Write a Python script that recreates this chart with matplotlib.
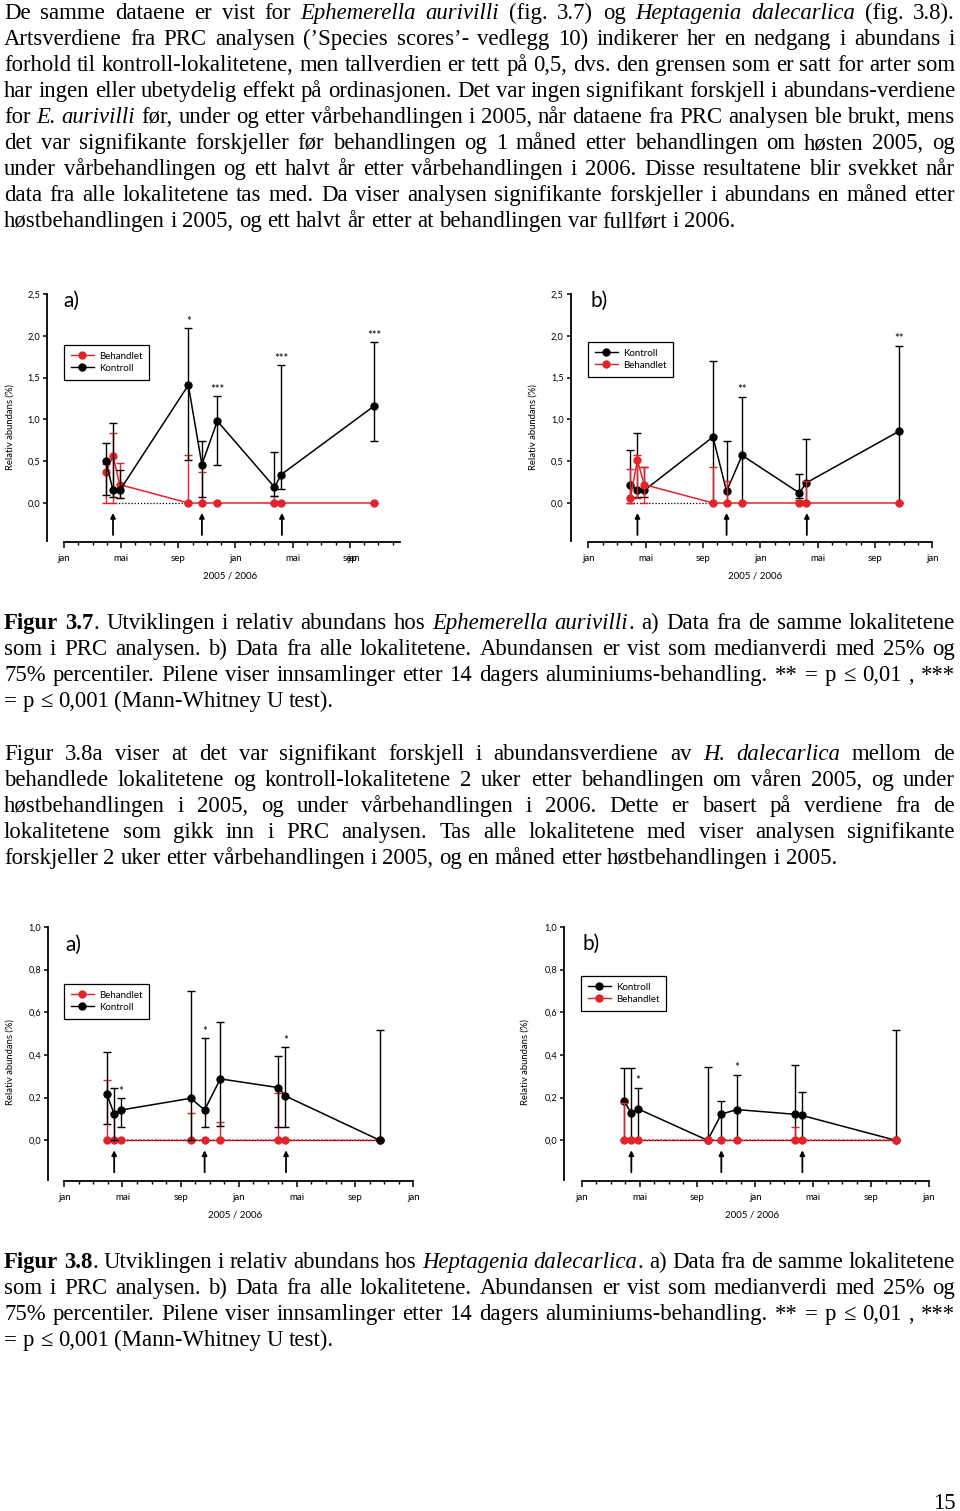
import re
import numpy as np
import matplotlib
matplotlib.use("Agg")
import matplotlib.pyplot as plt
from matplotlib.lines import Line2D

W, H = 960, 1511
SERIF = ["Liberation Serif", "DejaVu Serif"]
SANS = ["Lato", "DejaVu Sans"]
BODY = 16.35
RED = "#e3232b"

# ---- page text (_italic_, ^bold^) ----
para1 = [
    "De samme dataene er vist for _Ephemerella aurivilli_ (fig. 3.7) og _Heptagenia dalecarlica_ (fig. 3.8).",
    "Artsverdiene fra PRC analysen (’Species scores’- vedlegg 10) indikerer her en nedgang i abundans i",
    "forhold til kontroll-lokalitetene, men tallverdien er tett på 0,5, dvs. den grensen som er satt for arter som",
    "har ingen eller ubetydelig effekt på ordinasjonen. Det var ingen signifikant forskjell i abundans-verdiene",
    "for _E. aurivilli_ før, under og etter vårbehandlingen i 2005, når dataene fra PRC analysen ble brukt, mens",
    "det var signifikante forskjeller før behandlingen og 1 måned etter behandlingen om høsten 2005, og",
    "under vårbehandlingen og ett halvt år etter vårbehandlingen i 2006. Disse resultatene blir svekket når",
    "data fra alle lokalitetene tas med. Da viser analysen signifikante forskjeller i abundans en måned etter",
    "høstbehandlingen i 2005, og ett halvt år etter at behandlingen var fullført i 2006.",
]
caption_tail = [
    "som i PRC analysen. b) Data fra alle lokalitetene. Abundansen er vist som medianverdi med 25% og",
    "75% percentiler. Pilene viser innsamlinger etter 14 dagers aluminiums-behandling. ** = p ≤ 0,01 , ***",
    "= p ≤ 0,001 (Mann-Whitney U test).",
]
caption37 = ["^Figur 3.7^. Utviklingen i relativ abundans hos _Ephemerella aurivilli_. a) Data fra de samme lokalitetene"] + caption_tail
para2 = [
    "Figur 3.8a viser at det var signifikant forskjell i abundansverdiene av _H. dalecarlica_ mellom de",
    "behandlede lokalitetene og kontroll-lokalitetene 2 uker etter behandlingen om våren 2005, og under",
    "høstbehandlingen i 2005, og under vårbehandlingen i 2006. Dette er basert på verdiene fra de",
    "lokalitetene som gikk inn i PRC analysen. Tas alle lokalitetene med viser analysen signifikante",
    "forskjeller 2 uker etter vårbehandlingen i 2005, og en måned etter høstbehandlingen i 2005.",
]
caption38 = ["^Figur 3.8^. Utviklingen i relativ abundans hos _Heptagenia dalecarlica_. a) Data fra de samme lokalitetene"] + caption_tail

# ---- chart data (months since jan 2005) ----
months = [2.93, 3.43, 3.9, 8.7, 9.65, 10.73, 14.73, 15.2, 21.7]
arrow_months = [3.43, 9.65, 15.25]

# fig 3.7 a) same localities as PRC
ea_k_med = [0.50, 0.15, 0.15, 1.41, 0.46, 0.98, 0.19, 0.34, 1.16]
ea_k_lo = [0.10, 0.07, 0.06, 0.51, 0.07, 0.45, 0.08, 0.17, 0.74]
ea_k_hi = [0.72, 0.96, 0.40, 2.09, 0.74, 1.28, 0.61, 1.65, 1.92]
ea_b_med = [0.37, 0.56, 0.22, 0.0, 0.0, 0.0, 0.0, 0.0, 0.0]
ea_b_lo = [0.0, 0.0, 0.06, 0.0, 0.0, 0.0, 0.0, 0.0, 0.0]
ea_b_hi = [0.47, 0.84, 0.48, 0.57, 0.37, 0.0, 0.08, 0.0, 0.0]
ea_stars = ["", "", "", "*", "", "***", "", "***", "***"]

# fig 3.7 b) all localities
eb_k_med = [0.22, 0.15, 0.15, 0.79, 0.14, 0.57, 0.12, 0.24, 0.86]
eb_k_lo = [0.0, 0.07, 0.07, 0.0, 0.0, 0.0, 0.06, 0.0, 0.0]
eb_k_hi = [0.63, 0.84, 0.43, 1.70, 0.74, 1.27, 0.35, 0.77, 1.88]
eb_b_med = [0.06, 0.51, 0.22, 0.0, 0.0, 0.0, 0.0, 0.0, 0.0]
eb_b_lo = [0.0, 0.06, 0.0, 0.0, 0.0, 0.0, 0.0, 0.0, 0.0]
eb_b_hi = [0.41, 0.58, 0.43, 0.43, 0.26, 0.0, 0.03, 0.26, 0.0]
eb_stars = ["", "", "", "", "", "**", "", "", "**"]

# fig 3.8 a)
ha_k_med = [0.216, 0.123, 0.142, 0.197, 0.142, 0.288, 0.247, 0.208, 0.0]
ha_k_lo = [0.075, 0.0, 0.061, 0.0, 0.061, 0.069, 0.061, 0.061, 0.0]
ha_k_hi = [0.416, 0.247, 0.197, 0.70, 0.478, 0.553, 0.394, 0.436, 0.517]
ha_b_med = [0.0] * 9
ha_b_lo = [0.0] * 9
ha_b_hi = [0.283, 0.13, 0.0, 0.127, 0.0, 0.088, 0.223, 0.0, 0.0]
ha_stars = ["", "", "*", "", "*", "", "", "*", ""]

# fig 3.8 b)
hb_k_med = [0.184, 0.127, 0.147, 0.0, 0.123, 0.144, 0.122, 0.117, 0.0]
hb_k_lo = [0.0] * 9
hb_k_hi = [0.337, 0.337, 0.247, 0.345, 0.184, 0.308, 0.352, 0.228, 0.517]
hb_b_med = [0.0] * 9
hb_b_lo = [0.0] * 9
hb_b_hi = [0.173, 0.0, 0.0, 0.0, 0.0, 0.0, 0.061, 0.0, 0.0]
hb_stars = ["", "", "*", "", "", "*", "", "", ""]

month_names = ["jan", "mai", "sep", "jan", "mai", "sep", "jan"]

fig = plt.figure(figsize=(W / 100, H / 100), dpi=100)
renderer = fig.canvas.get_renderer()


def parse(line):
    runs = []
    for part in re.split(r"(_[^_]*_|\^[^\^]*\^)", line):
        if not part:
            continue
        if part[0] == "_":
            runs.append((part[1:-1], "italic"))
        elif part[0] == "^":
            runs.append((part[1:-1], "bold"))
        else:
            runs.append((part, "normal"))
    words = [[]]
    for txt, sty in runs:
        for i, c in enumerate(txt.split(" ")):
            if i > 0:
                words.append([])
            if c:
                words[-1].append((c, sty))
    return [w for w in words if w]


def put_line(line, y, justify, x0=4, x1=955):
    items = []
    for w in parse(line):
        arts = []
        for txt, sty in w:
            t = fig.text(0, 1 - y / H, txt, fontsize=BODY, family=SERIF, va="baseline",
                         style="italic" if sty == "italic" else "normal",
                         weight="bold" if sty == "bold" else "normal")
            arts.append((t, t.get_window_extent(renderer).width))
        items.append(arts)
    total = sum(bw for arts in items for _, bw in arts)
    gap = BODY * 100 / 72 * 0.25
    if justify and len(items) > 1:
        gap = (x1 - x0 - total) / (len(items) - 1)
    x = x0
    for arts in items:
        for t, bw in arts:
            t.set_x(x / W)
            x += bw
        x += gap


def put_paragraph(lines, y0, step=26):
    for i, line in enumerate(lines):
        put_line(line, y0 + i * step, justify=(i < len(lines) - 1))


put_paragraph(para1, 19)
put_paragraph(caption37, 629)
put_paragraph(para2, 760)
put_paragraph(caption38, 1268)
fig.text(956 / W, 1 - 1509 / H, "15", fontsize=BODY, family=SERIF, ha="right", va="baseline")


def panel(g, k_med, k_lo, k_hi, b_med, b_lo, b_hi, stars, kontroll_first):
    jx, mpx, zy, upx = g["jan_x"], g["mpx"], g["zero_y"], g["upx"]
    xlim = (-2.0, 24.6)
    ylim = (-48 / upx, g["ytop"] + 14 / upx)
    left = jx + xlim[0] * mpx
    right = jx + xlim[1] * mpx
    top = zy - ylim[1] * upx
    bot = zy - ylim[0] * upx
    ax = fig.add_axes([left / W, 1 - bot / H, (right - left) / W, (bot - top) / H])
    ax.set_xlim(xlim)
    ax.set_ylim(ylim)
    ax.patch.set_visible(False)
    for s in ("top", "right"):
        ax.spines[s].set_visible(False)
    xaxis_y = -g["xoff"] / upx
    ax.spines["left"].set_position(("data", (g["yaxis_x"] - jx) / mpx))
    ax.spines["left"].set_bounds(xaxis_y + 1 / upx, g["ytop"])
    ax.spines["bottom"].set_position(("data", xaxis_y))
    ax.spines["bottom"].set_bounds(0, g["xend"])
    for s in ("left", "bottom"):
        ax.spines[s].set_linewidth(1.3)

    yt = np.round(np.arange(0, g["ytop"] + 1e-9, g["ystep"]), 2)
    ax.set_yticks(yt)
    ax.set_yticklabels([f"{v:.1f}".replace(".", ",") for v in yt], family=SANS, fontsize=6.6)
    nmaj = int(g["xend"] // 4) + 1
    ax.set_xticks(np.arange(nmaj) * 4)
    ax.set_xticklabels(month_names[:nmaj], family=SANS, fontsize=7.0)
    ax.set_xticks(np.arange(0, int(g["xend"]) + 1), minor=True)
    ax.tick_params(axis="x", which="major", length=4, width=1.1, pad=5)
    ax.tick_params(axis="x", which="minor", length=2.5, width=1.0)
    ax.tick_params(axis="y", length=3, width=1.1, pad=2)

    m = np.array(months)
    series = {
        "Kontroll": (np.array(k_med), np.array(k_lo), np.array(k_hi), "black"),
        "Behandlet": (np.array(b_med), np.array(b_lo), np.array(b_hi), RED),
    }
    order = ["Kontroll", "Behandlet"] if kontroll_first else ["Behandlet", "Kontroll"]

    if g["dotted_red"]:
        ax.plot(m, np.zeros_like(m), color=RED, lw=1.0, zorder=2)
        ax.plot(m, np.zeros_like(m), color="black", lw=0.8, ls=(0, (1, 1.5)), zorder=2.1)
    else:
        ax.plot(m[:4], np.zeros(4), color="black", lw=0.9, ls=(0, (1, 1.5)), zorder=1)

    handles = []
    for z, name in enumerate(order):
        med, lo, hi, c = series[name]
        ax.errorbar(m, med, yerr=[med - lo, hi - med], fmt="none", ecolor=c,
                    elinewidth=1.0, capsize=3.0, capthick=1.0, zorder=3 + z)
        ax.plot(m, med, color=c, lw=1.1, zorder=3 + z,
                ls=":" if (g["dotted_red"] and name == "Behandlet") else "-")
        ax.plot(m, med, "o", color=c, ms=5.0, mec=c, zorder=3.5 + z)
        handles.append(Line2D([], [], color=c, marker="o", ms=5.0, lw=1.0))

    for mi, s, h in zip(m, stars, np.array(k_hi)):
        if s:
            ax.annotate(s, (mi, h), xytext=(0, 5), textcoords="offset points",
                        ha="center", va="center", fontsize=8, family=SANS)

    for am in arrow_months:
        ax.annotate("", xy=(am, -10 / upx), xytext=(am, -32 / upx),
                    arrowprops=dict(arrowstyle="-|>", color="black", lw=1.3,
                                    mutation_scale=7, shrinkA=0, shrinkB=0))

    leg = ax.legend(handles, order, loc="upper left",
                    bbox_to_anchor=(g["leg"][0] / W, 1 - g["leg"][1] / H),
                    bbox_transform=fig.transFigure, borderaxespad=0, fancybox=False,
                    edgecolor="black", framealpha=1, prop={"family": SANS, "size": 7.0},
                    handlelength=2.4, borderpad=0.7, labelspacing=0.3, handletextpad=0.5)
    leg.get_frame().set_linewidth(0.9)

    fig.text(g["lab"][0] / W, 1 - g["lab"][1] / H, g["name"], fontsize=15,
             family=SANS, ha="left", va="center")
    fig.text(g["ylab"][0] / W, 1 - g["ylab"][1] / H, "Relativ abundans (%)", rotation=90,
             fontsize=6.8, family=SANS, ha="center", va="center")
    fig.text(g["xlab"][0] / W, 1 - g["xlab"][1] / H, "2005 / 2006", fontsize=7.0,
             family=SANS, ha="center", va="center")
    return ax, xaxis_y


geo_top_a = dict(jan_x=64, mpx=14.29, zero_y=503, upx=83.6, yaxis_x=47, xoff=38.7,
                 ytop=2.5, ystep=0.5, xend=23.5, lab=(63, 301), leg=(64, 345),
                 ylab=(10, 427), xlab=(230, 576), name="a)", dotted_red=False)
geo_top_b = dict(jan_x=588.3, mpx=14.33, zero_y=503, upx=83.6, yaxis_x=570.7, xoff=38.7,
                 ytop=2.5, ystep=0.5, xend=24, lab=(590, 301), leg=(588, 342),
                 ylab=(533, 427), xlab=(755, 576), name="b)", dotted_red=False)
geo_bot_a = dict(jan_x=64.3, mpx=14.54, zero_y=1140.3, upx=213.3, yaxis_x=48.3, xoff=40.4,
                 ytop=1.0, ystep=0.2, xend=24, lab=(65, 945), leg=(64, 984),
                 ylab=(10, 1062), xlab=(235, 1215), name="a)", dotted_red=True)
geo_bot_b = dict(jan_x=581.7, mpx=14.47, zero_y=1140.3, upx=213.3, yaxis_x=564.3, xoff=40.4,
                 ytop=1.0, ystep=0.2, xend=24, lab=(583, 944), leg=(581, 976),
                 ylab=(525, 1062), xlab=(752, 1215), name="b)", dotted_red=True)

ax1, ax1_base = panel(geo_top_a, ea_k_med, ea_k_lo, ea_k_hi, ea_b_med, ea_b_lo, ea_b_hi, ea_stars, False)
# overlapping "sep"/"jan" labels at the cropped end of the first axis
ax1.annotate("jan", (20, ax1_base), xytext=(3, -9), textcoords="offset points",
             ha="center", va="top", fontsize=7.0, family=SANS, annotation_clip=False)
panel(geo_top_b, eb_k_med, eb_k_lo, eb_k_hi, eb_b_med, eb_b_lo, eb_b_hi, eb_stars, True)
panel(geo_bot_a, ha_k_med, ha_k_lo, ha_k_hi, ha_b_med, ha_b_lo, ha_b_hi, ha_stars, False)
panel(geo_bot_b, hb_k_med, hb_k_lo, hb_k_hi, hb_b_med, hb_b_lo, hb_b_hi, hb_stars, True)

fig.savefig("out.png", dpi=100)
